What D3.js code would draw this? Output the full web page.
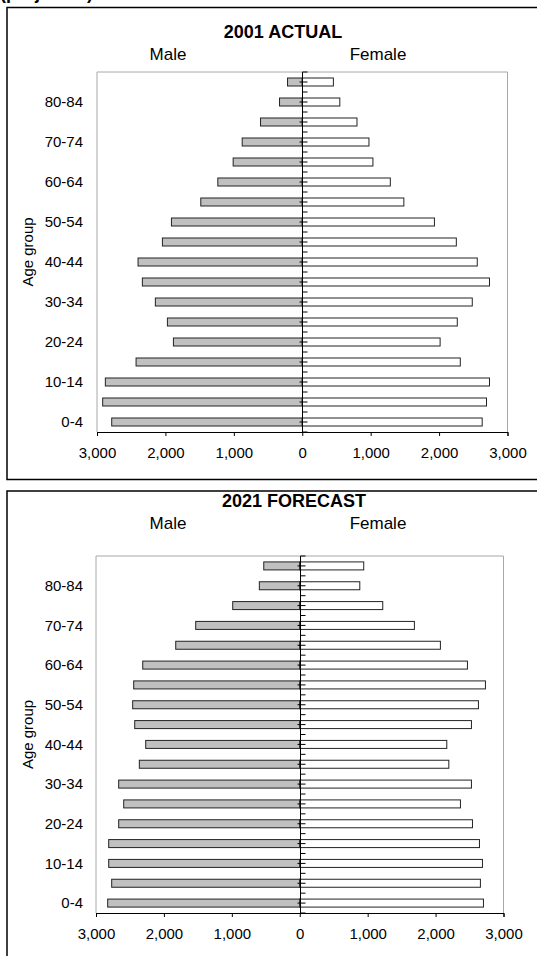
<!DOCTYPE html>
<html>
<head>
<meta charset="utf-8">
<script src="https://cdn.jsdelivr.net/npm/d3@7"></script>
<style>
  body { margin: 0; background: #fff; }
  text { font-family: 'Liberation Sans', Arial, sans-serif; fill: #000; }
</style>
</head>
<body>
<script>
let ageGroups = ['0-4', '5-9', '10-14', '15-19', '20-24', '25-29', '30-34', '35-39', '40-44',
                 '45-49', '50-54', '55-59', '60-64', '65-69', '70-74', '75-79', '80-84', '85+']

let male2001 = [2785, 2917, 2878, 2429, 1883, 1971, 2147, 2337, 2400, 2044, 1912, 1483, 1234, 1010, 878, 610, 332, 215]
let female2001 = [2630, 2693, 2737, 2310, 2015, 2266, 2485, 2737, 2558, 2252, 1932, 1485, 1287, 1033, 975, 800, 549, 455]

let male2021 = [2828, 2769, 2813, 2813, 2666, 2592, 2666, 2362, 2268, 2430, 2460, 2445, 2312, 1826, 1532, 987, 595, 530]
let female2021 = [2705, 2660, 2690, 2646, 2543, 2366, 2528, 2195, 2165, 2528, 2631, 2734, 2469, 2071, 1688, 1222, 884, 942]

let xTicks = [-3000, -2000, -1000, 0, 1000, 2000, 3000]
let shownAges = ['0-4', '10-14', '20-24', '30-34', '40-44', '50-54', '60-64', '70-74', '80-84']

SVG_WIDTH = 537
SVG_HEIGHT = 956
MALE_COLOR = '#c0c0c0'
FEMALE_COLOR = '#ffffff'
BAR_H = 8

let svg = d3.select('body').append('svg')
            .attr('width', SVG_WIDTH)
            .attr('height', SVG_HEIGHT)

// cut-off heading above the first box
svg.append('text')
    .attr('x', 0).attr('y', -1)
    .style('font-size', '18px').style('font-weight', 'bold')
    .text('(projected)')

let drawPyramid = (opt) => {
    let g = svg.append('g')

    // outer box (runs off the page on the right)
    g.append('rect')
        .attr('x', 7).attr('y', opt.boxTop)
        .attr('width', 600).attr('height', opt.boxH)
        .attr('fill', 'none').attr('stroke', '#000').attr('stroke-width', 1.5)

    let x = d3.scaleLinear().domain([-3000, 3000]).range([opt.left, opt.right])
    let y = d3.scaleBand().domain(ageGroups.slice().reverse()).range([opt.top, opt.bottom])

    let data = ageGroups.map((a, i) => ({age: a, male: opt.male[i], female: opt.female[i]}))

    // plot frame
    g.append('path')
        .attr('d', `M${opt.left},${opt.bottom}V${opt.top}H${opt.right}V${opt.bottom}`)
        .attr('fill', 'none').attr('stroke', '#a8a8a8').attr('stroke-width', 1)

    g.selectAll('.male-bar')
        .data(data)
        .join('rect')
        .classed('male-bar', true)
        .attr('x', d => x(-d.male))
        .attr('y', d => y(d.age) + y.bandwidth() / 2 - BAR_H / 2)
        .attr('width', d => x(0) - x(-d.male))
        .attr('height', BAR_H)
        .style('fill', MALE_COLOR)
        .style('stroke', '#222')

    g.selectAll('.female-bar')
        .data(data)
        .join('rect')
        .classed('female-bar', true)
        .attr('x', x(0))
        .attr('y', d => y(d.age) + y.bandwidth() / 2 - BAR_H / 2)
        .attr('width', d => x(d.female) - x(0))
        .attr('height', BAR_H)
        .style('fill', FEMALE_COLOR)
        .style('stroke', '#222')

    // zero axis with category ticks
    let zero = Math.round(x(0)) + 0.5
    g.append('line')
        .attr('x1', zero).attr('x2', zero)
        .attr('y1', opt.top).attr('y2', opt.bottom)
        .attr('stroke', '#000')
    let bounds = ageGroups.map(a => y(a)).concat([opt.bottom])
    g.selectAll('.cat-tick')
        .data(bounds)
        .join('line')
        .classed('cat-tick', true)
        .attr('x1', zero).attr('x2', zero + 5)
        .attr('y1', d => d).attr('y2', d => d)
        .attr('stroke', '#000')
    g.selectAll('.mid-tick')
        .data(ageGroups)
        .join('line')
        .classed('mid-tick', true)
        .attr('x1', zero - 3).attr('x2', zero + 5)
        .attr('y1', d => y(d) + y.bandwidth() / 2).attr('y2', d => y(d) + y.bandwidth() / 2)
        .attr('stroke', '#000')

    // value axis
    let xAxis = d3.axisBottom(x)
        .tickValues(xTicks)
        .tickSize(4)
        .tickPadding(11)
        .tickFormat(d => d3.format(',')(Math.abs(d)))
    let ax = g.append('g')
        .attr('transform', `translate(0,${opt.bottom})`)
        .call(xAxis)
    ax.select('.domain').attr('stroke', '#000')
    ax.selectAll('text').style('font-size', '15px').attr('fill', '#000')
        .style('font-family', "'Liberation Sans', Arial, sans-serif")

    // age labels
    g.selectAll('.age-label')
        .data(shownAges)
        .join('text')
        .classed('age-label', true)
        .attr('x', 83)
        .attr('y', d => y(d) + y.bandwidth() / 2)
        .attr('dy', '0.36em')
        .attr('text-anchor', 'end')
        .style('font-size', '15px')
        .text(d => d)

    g.append('text')
        .attr('transform', `translate(33,${(opt.top + opt.bottom) / 2}) rotate(-90)`)
        .attr('text-anchor', 'middle')
        .style('font-size', '15px')
        .text('Age group')

    g.append('text')
        .attr('x', opt.titleX).attr('y', opt.titleY)
        .attr('text-anchor', 'middle')
        .style('font-size', '18px').style('font-weight', 'bold')
        .text(opt.title)
    g.append('text')
        .attr('x', 168).attr('y', opt.titleY + 21.5)
        .attr('text-anchor', 'middle')
        .style('font-size', '17px')
        .text('Male')
    g.append('text')
        .attr('x', 378).attr('y', opt.titleY + 21.5)
        .attr('text-anchor', 'middle')
        .style('font-size', '17px')
        .text('Female')
}

drawPyramid({title: '2001 ACTUAL', titleX: 283, titleY: 38, boxTop: 7.5, boxH: 472,
             left: 97, right: 507.5, top: 72, bottom: 432, male: male2001, female: female2001})

drawPyramid({title: '2021 FORECAST', titleX: 294, titleY: 507, boxTop: 491, boxH: 600,
             left: 96, right: 503.5, top: 556, bottom: 913, male: male2021, female: female2021})
</script>
</body>
</html>
